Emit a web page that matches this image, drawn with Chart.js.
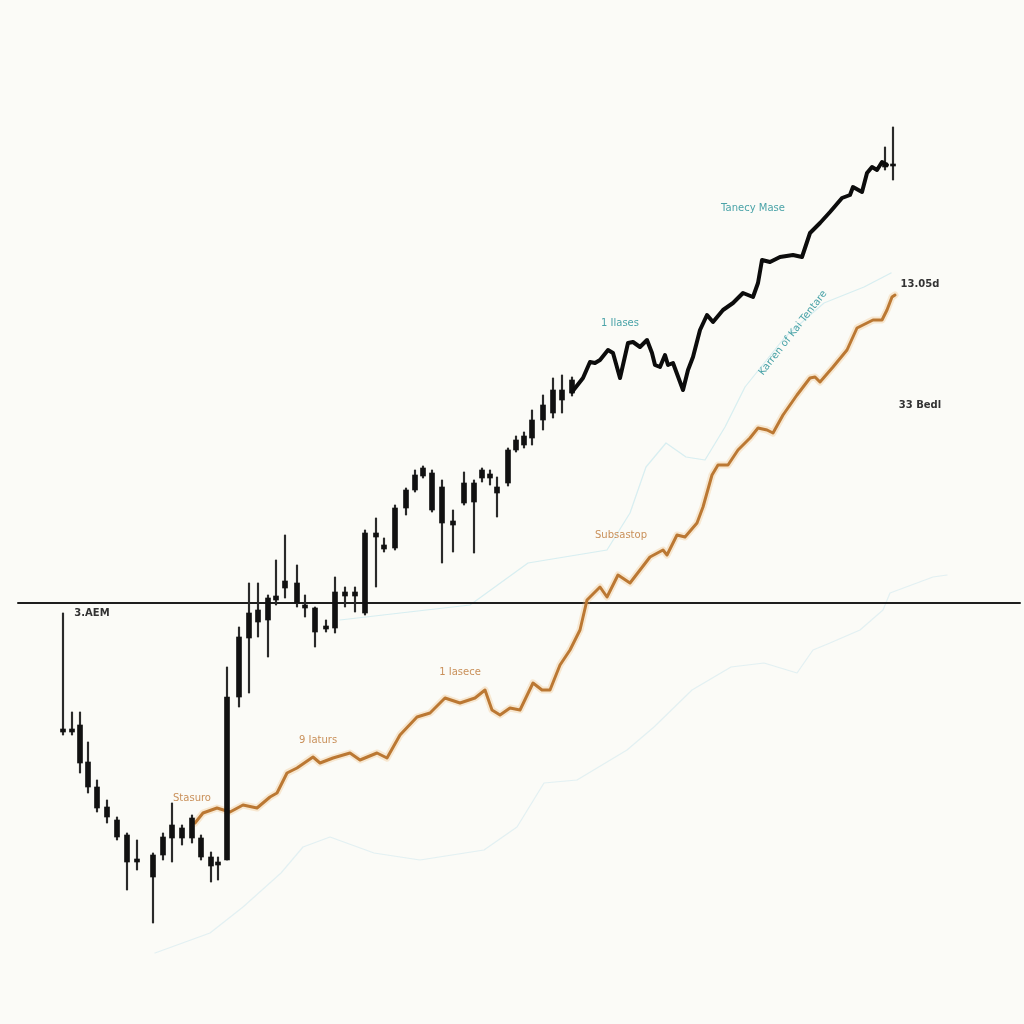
<!DOCTYPE html>
<html>
<head>
<meta charset="utf-8">
<script src="https://cdn.jsdelivr.net/npm/chart.js@4.4.1/dist/chart.umd.min.js"></script>
<style>
  html, body { margin: 0; padding: 0; background: #fbfbf7; }
  #wrap { width: 1024px; height: 1024px; }
</style>
</head>
<body>
<div id="wrap"><canvas id="chart" width="1024" height="1024"></canvas></div>
<script>
// candles (time position, open, close, high, low)
const candleX = [63, 72, 80, 88, 97, 107, 117, 127, 137, 153, 163, 172, 182, 192, 201, 211, 218, 227,
  239, 249, 258, 268, 276, 285, 297, 305, 315, 326, 335, 345, 355, 365, 376, 384, 395, 406, 415, 423,
  432, 442, 453, 464, 474, 482, 490, 497, 508, 516, 524, 532, 543, 553, 562, 572, 885, 893];
const candleOpen = [292, 292, 299, 262, 237, 217, 204, 189, 165, 169, 169, 186, 186, 186, 186, 167, 162, 164,
  327, 386, 402, 404, 424, 436, 441, 419, 416, 398, 396, 432, 432, 411, 487, 479, 476, 516, 534, 548,
  551, 537, 503, 521, 522, 546, 546, 537, 541, 574, 579, 586, 604, 611, 624, 631, 857, 858];
const candleClose = [295, 295, 261, 237, 216, 207, 187, 162, 162, 147, 187, 199, 196, 206, 167, 158, 159, 327,
  387, 411, 414, 426, 428, 443, 421, 416, 392, 395, 432, 428, 428, 491, 491, 475, 516, 534, 549, 556,
  514, 501, 499, 541, 541, 554, 550, 531, 574, 584, 588, 604, 619, 634, 634, 644, 861, 860];
const candleHigh = [411, 312, 312, 282, 244, 224, 207, 191, 184, 171, 191, 221, 199, 209, 189, 172, 167, 357,
  397, 441, 441, 429, 464, 489, 459, 429, 417, 404, 447, 437, 437, 494, 506, 486, 519, 536, 554, 558,
  554, 544, 514, 552, 544, 556, 554, 547, 576, 588, 592, 614, 629, 646, 649, 647, 877, 897];
const candleLow = [289, 289, 251, 231, 212, 201, 184, 134, 154, 101, 164, 162, 179, 181, 164, 142, 144, 164,
  317, 331, 387, 367, 419, 426, 417, 407, 377, 392, 391, 417, 412, 409, 437, 472, 474, 509, 532, 546,
  512, 461, 472, 519, 471, 542, 539, 507, 538, 572, 576, 579, 594, 606, 611, 628, 854, 844];

// main black series
const blackX = [572, 583, 590, 595, 600, 608, 613, 620, 628, 633, 640, 647, 652, 655, 660, 665, 668, 673,
  683, 688, 693, 700, 707, 713, 723, 733, 743, 753, 758, 762, 770, 780, 793, 802, 810, 820, 830, 842,
  850, 853, 862, 867, 872, 877, 882, 887];
const blackY = [632, 646, 662, 661, 664, 674, 671, 646, 681, 682, 677, 684, 671, 659, 657, 669, 659, 661,
  634, 654, 667, 694, 709, 702, 714, 721, 731, 727, 741, 764, 762, 767, 769, 767, 791, 801, 812, 826,
  829, 837, 832, 851, 857, 854, 862, 859];

// orange series
const orangeX = [195, 203, 217, 230, 243, 257, 270, 277, 287, 297, 313, 320, 333, 350, 360, 377, 387, 400,
  417, 430, 445, 460, 475, 485, 492, 500, 510, 520, 533, 542, 550, 560, 570, 580, 587, 600, 607, 618,
  630, 650, 663, 667, 677, 685, 697, 703, 712, 718, 728, 738, 750, 758, 767, 773, 783, 797, 810, 815,
  820, 833, 847, 857, 867, 873, 882, 887, 892, 895];
const orangeY = [201, 211, 216, 212, 219, 216, 227, 231, 251, 256, 267, 261, 266, 271, 264, 271, 266, 289,
  307, 311, 326, 321, 326, 334, 314, 309, 316, 314, 341, 334, 334, 359, 374, 394, 424, 437, 427, 449,
  441, 467, 474, 469, 489, 487, 501, 517, 549, 559, 559, 574, 586, 596, 594, 591, 609, 629, 646, 647,
  642, 657, 674, 696, 701, 704, 704, 714, 727, 729];

// faint light-blue series
const paleLowX = [155, 210, 243, 281, 303, 330, 374, 420, 484, 517, 544, 577, 627, 654, 692, 731, 764, 797,
  813, 830, 860, 883, 890, 933, 947];
const paleLowY = [71, 91, 117, 151, 177, 187, 171, 164, 174, 197, 241, 244, 274, 297, 334, 357, 361, 351,
  374, 381, 394, 414, 431, 447, 449];
const paleHighX = [340, 409, 470, 528, 607, 630, 646, 666, 686, 705, 725, 745, 785, 824, 864, 891];
const paleHighY = [404, 412, 419, 461, 474, 511, 557, 581, 567, 564, 597, 637, 687, 721, 737, 751];

// reference level
const levelY = 421;
const levelX = [18, 1020];

// text annotations
const noteText = ['3.AEM', 'Stasuro', '9 Iaturs', '1 Iasece', 'Subsastop', '1 Ilases', 'Tanecy Mase',
  'Karren of Kai Tentare', '13.05d', '33 Bedl'];
const noteX = [92, 192, 318, 460, 621, 620, 753, 793, 920, 920];
const noteY = [411, 226, 284, 352, 489, 701, 816, 691, 740, 619];

const noteStyle = [
  { color: '#333', bold: true }, { color: '#c9905a' }, { color: '#c9905a' }, { color: '#c9905a' },
  { color: '#c9905a' }, { color: '#4aa3a8' }, { color: '#4aa3a8' }, { color: '#4aa3a8', rotate: -52 },
  { color: '#333', bold: true }, { color: '#333', bold: true }
];

const pts = (xs, ys) => xs.map((x, i) => ({ x, y: ys[i] }));

const notesPlugin = {
  id: 'notes',
  afterDatasetsDraw(chart) {
    const { ctx, scales } = chart;
    noteText.forEach((t, i) => {
      const s = noteStyle[i];
      ctx.save();
      ctx.translate(scales.x.getPixelForValue(noteX[i]), scales.y.getPixelForValue(noteY[i]));
      if (s.rotate) ctx.rotate(s.rotate * Math.PI / 180);
      ctx.font = (s.bold ? 'bold ' : '') + '10px "DejaVu Sans", sans-serif';
      ctx.fillStyle = s.color;
      ctx.textAlign = 'center';
      ctx.textBaseline = 'middle';
      ctx.fillText(t, 0, 0);
      ctx.restore();
    });
  }
};

const lineBase = { type: 'line', pointRadius: 0, tension: 0, fill: false, borderJoinStyle: 'round', borderCapStyle: 'round' };

new Chart(document.getElementById('chart'), {
  type: 'bar',
  data: {
    datasets: [
      { ...lineBase, data: pts(paleLowX, paleLowY), borderColor: 'rgba(205,232,238,0.55)', borderWidth: 1.2, order: 10 },
      { ...lineBase, data: pts(paleHighX, paleHighY), borderColor: 'rgba(200,232,238,0.7)', borderWidth: 1.2, order: 10 },
      { ...lineBase, data: levelX.map(x => ({ x, y: levelY })), borderColor: '#1e1e1e', borderWidth: 2, order: 9 },
      { ...lineBase, data: pts(orangeX, orangeY), borderColor: 'rgba(240,185,120,0.3)', borderWidth: 7, order: 8 },
      { ...lineBase, data: pts(orangeX, orangeY), borderColor: '#bb7833', borderWidth: 3, order: 7 },
      { type: 'bar', data: candleX.map((x, i) => ({ x, y: [candleLow[i], candleHigh[i]] })),
        backgroundColor: '#2a2a2a', barThickness: 1.5, grouped: false, order: 6 },
      { type: 'bar', data: candleX.map((x, i) => ({ x, y: [candleOpen[i], candleClose[i]] })),
        backgroundColor: '#111', barThickness: 5, grouped: false, minBarLength: 2, order: 5 },
      { ...lineBase, data: pts(blackX, blackY), borderColor: '#0c0c0c', borderWidth: 4, order: 4 }
    ]
  },
  options: {
    responsive: false,
    animation: false,
    layout: { padding: 0 },
    plugins: { legend: { display: false }, tooltip: { enabled: false } },
    scales: {
      x: { type: 'linear', min: 0, max: 1024, offset: false, display: false },
      y: { type: 'linear', min: 0, max: 1024, display: false }
    }
  },
  plugins: [notesPlugin]
});
</script>
</body>
</html>
